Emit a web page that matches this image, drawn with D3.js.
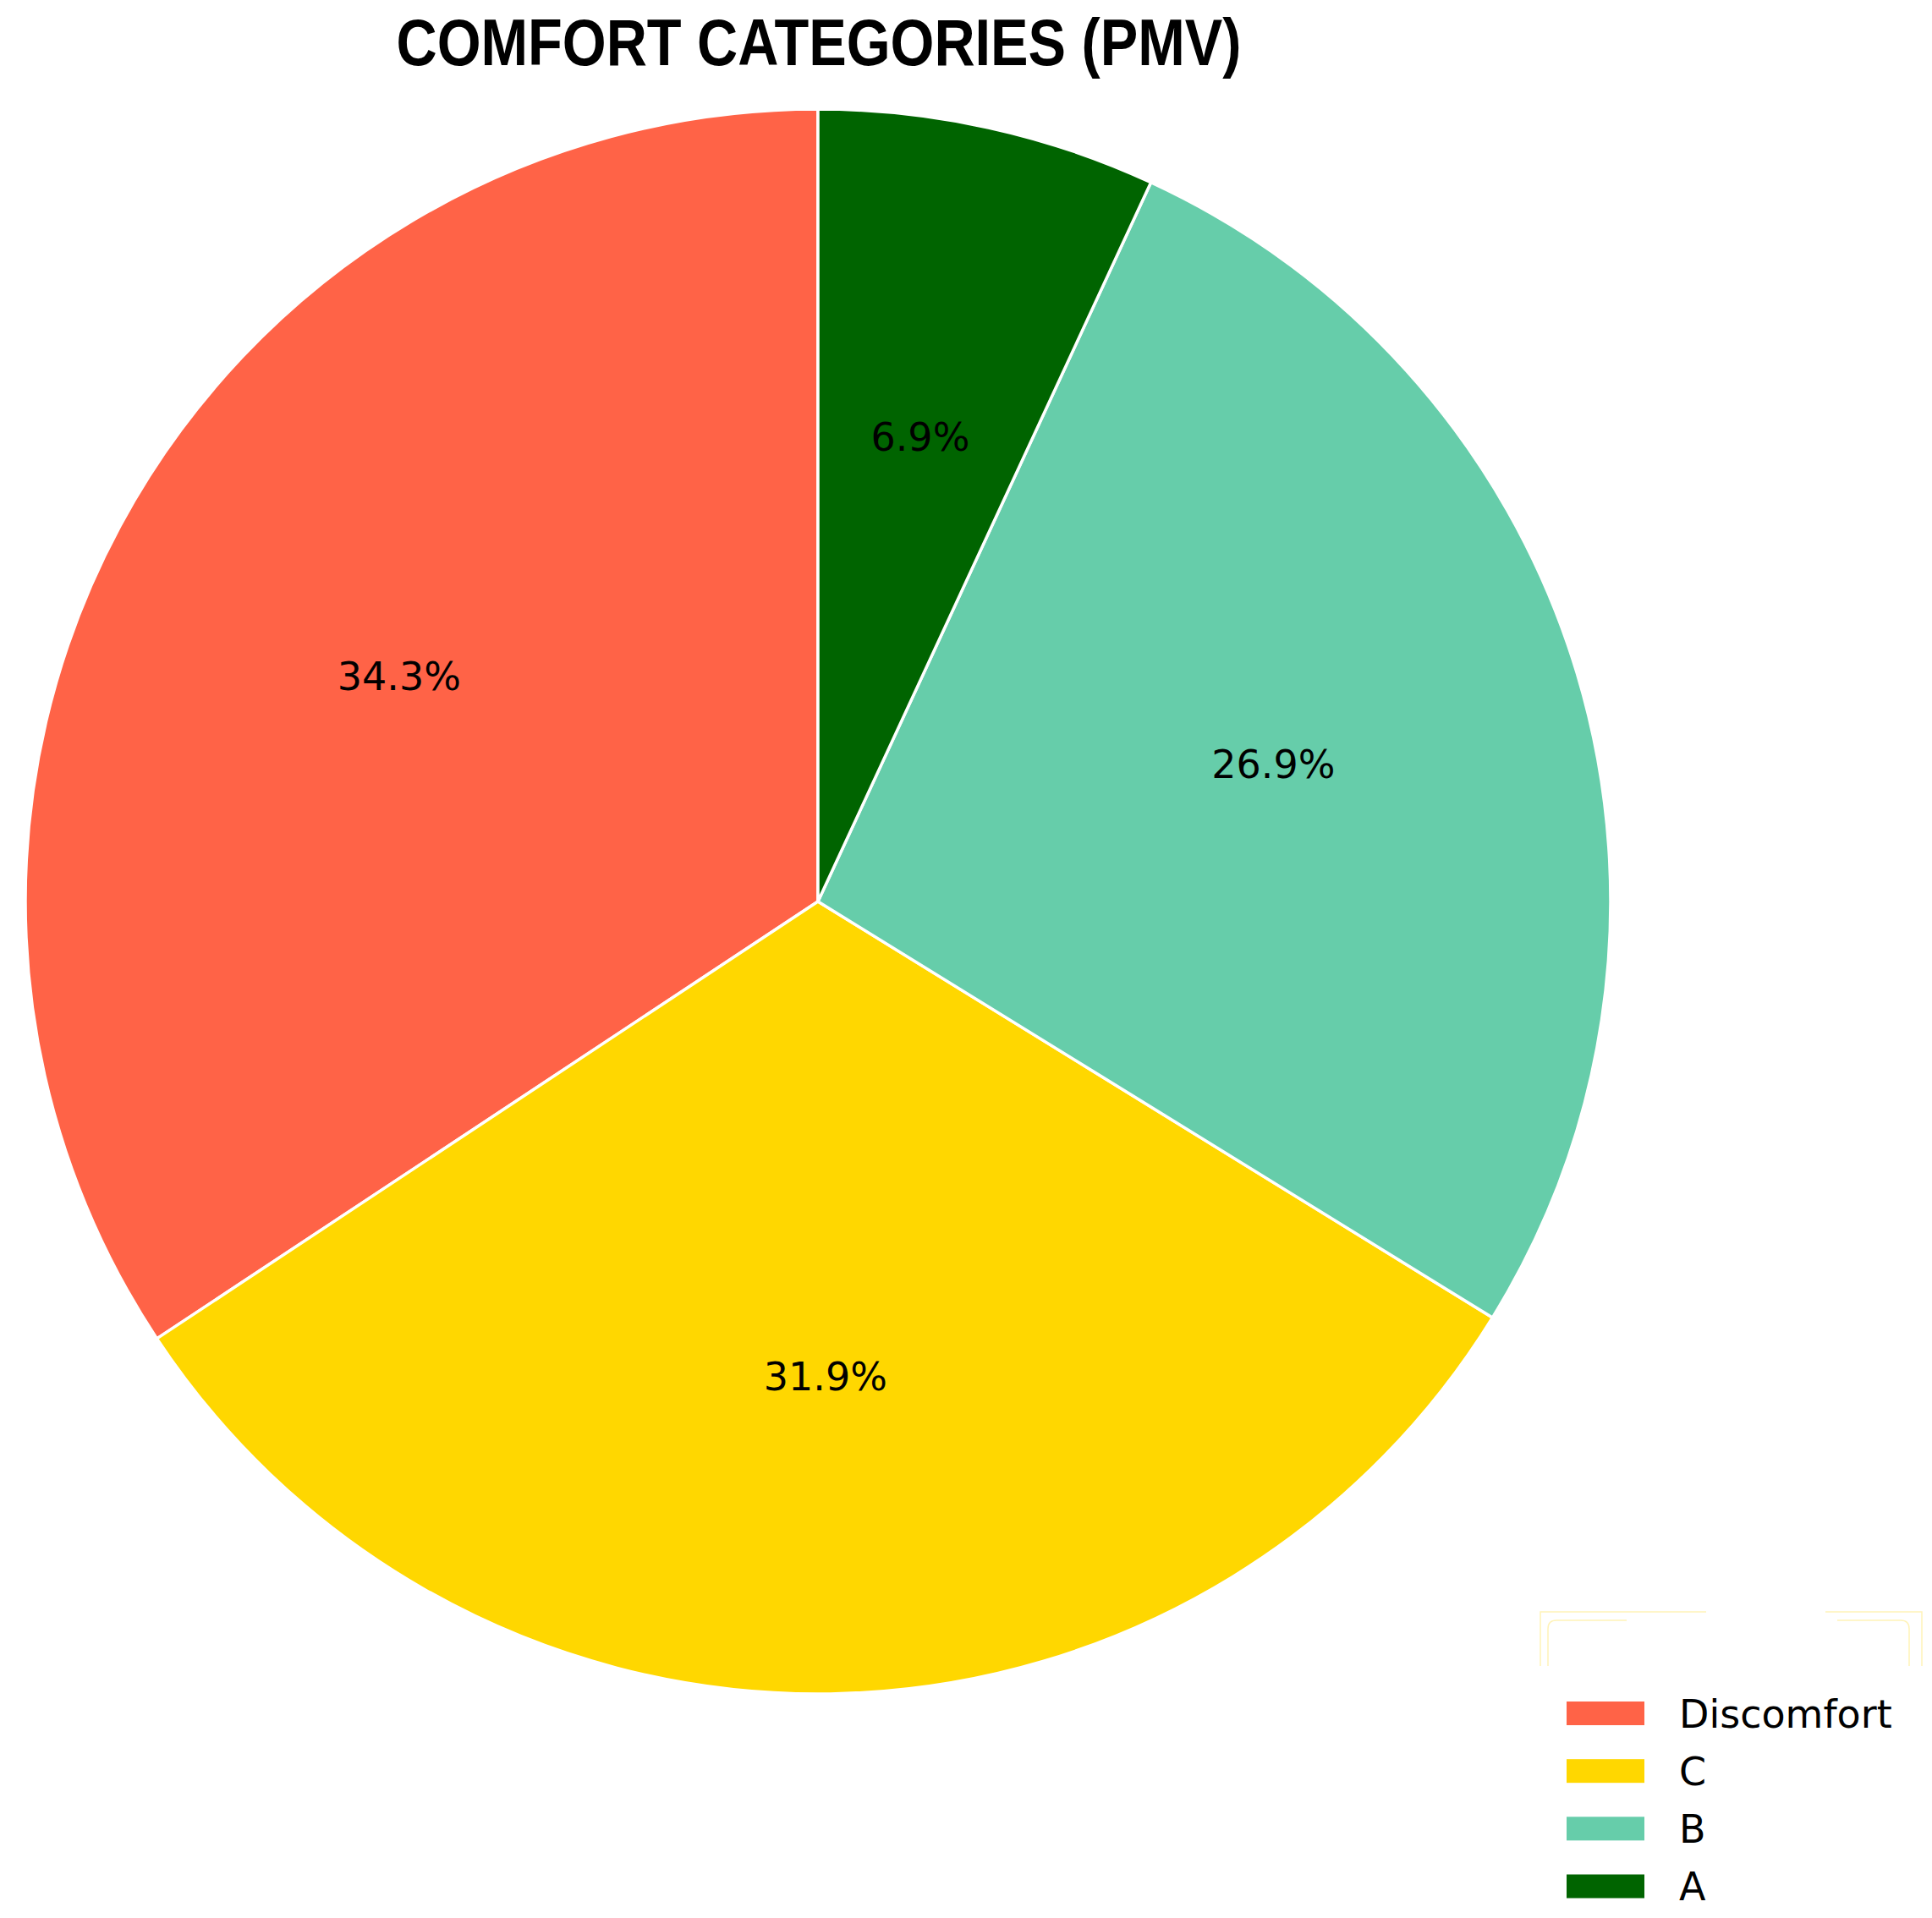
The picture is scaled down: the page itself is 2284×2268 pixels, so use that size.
<!DOCTYPE html>
<html>
<head>
<meta charset="utf-8">
<script src="https://cdn.jsdelivr.net/npm/d3@7"></script>
<style>
  body { margin: 0; background: #fff; }
</style>
</head>
<body>
<div id="wrapper"></div>
<script>
// data
const categories = ["Discomfort", "C", "B", "A"];
const shares = [34.3, 31.9, 26.9, 6.9];
const sliceColors = ["#FF6347", "#FFD700", "#66CDAA", "#006400"];
const chartTitle = "COMFORT CATEGORIES (PMV)";

function buildPlot() {
    const dimension = {
        width: 2284,
        height: 2268,
        cx: 967,
        cy: 1066,
        radius: 937
    };

    const svg = d3.select("#wrapper").append("svg")
        .attr("width", dimension.width)
        .attr("height", dimension.height);

    svg.append("rect")
        .attr("width", dimension.width)
        .attr("height", dimension.height)
        .attr("fill", "#fff");

    const data = categories.map((c, i) => ({ name: c, value: shares[i] }));
    const color = d3.scaleOrdinal().domain(categories).range(sliceColors);

    // counter clockwise from 12 o'clock, like matplotlib startangle=90
    const pie = d3.pie()
        .sort(null)
        .value(d => d.value)
        .startAngle(0)
        .endAngle(-2 * Math.PI);

    const arcs = pie(data);

    const arc = d3.arc()
        .innerRadius(0)
        .outerRadius(dimension.radius);

    const labelArc = d3.arc()
        .innerRadius(dimension.radius * 0.6)
        .outerRadius(dimension.radius * 0.6);

    const bounded = svg.append("g")
        .attr("transform", `translate(${dimension.cx},${dimension.cy})`);

    bounded.selectAll("path.slice")
        .data(arcs)
        .join("path")
        .attr("class", "slice")
        .attr("d", arc)
        .attr("fill", d => color(d.data.name))
        .attr("stroke", "#fff")
        .attr("stroke-width", 3.5)
        .attr("stroke-linejoin", "round");

    bounded.selectAll("text.pct")
        .data(arcs)
        .join("text")
        .attr("class", "pct")
        .attr("transform", d => `translate(${labelArc.centroid(d)})`)
        .attr("text-anchor", "middle")
        .attr("dy", "0.35em")
        .attr("font-family", "DejaVu Sans")
        .attr("font-size", 46)
        .attr("fill", "#000")
        .text(d => d.data.value.toFixed(1) + "%");

    // title
    svg.append("text")
        .attr("x", 968)
        .attr("y", 77)
        .attr("text-anchor", "middle")
        .attr("font-family", "'Liberation Sans Narrow', 'Arial Narrow', 'Liberation Sans', sans-serif")
        .attr("font-weight", "bold")
        .attr("font-size", 77)
        .attr("textLength", 999)
        .attr("lengthAdjust", "spacingAndGlyphs")
        .attr("fill", "#000")
        .text(chartTitle);

    // legend
    const legend = svg.append("g");

    // faint leftover frame pieces above the legend
    const frame = legend.append("g")
        .attr("fill", "none")
        .attr("stroke", "#fff3b8")
        .attr("stroke-width", 1.5);
    frame.append("path").attr("d", "M1821,1970 V1906 H2017");
    frame.append("path").attr("d", "M2158,1906 H2272 V1970");
    frame.append("path").attr("d", "M1830,1970 V1926 Q1830,1916 1840,1916 H1923");
    frame.append("path").attr("d", "M2172,1916 H2247 Q2257,1916 2257,1926 V1970");

    const legendY = d3.scalePoint()
        .domain(categories)
        .range([2026, 2230.5]);

    const item = legend.selectAll("g.item")
        .data(categories)
        .join("g")
        .attr("class", "item")
        .attr("transform", d => `translate(0,${legendY(d)})`);

    item.append("rect")
        .attr("x", 1852)
        .attr("y", -14)
        .attr("width", 92)
        .attr("height", 28)
        .attr("fill", d => color(d));

    item.append("text")
        .attr("x", 1985)
        .attr("dy", "0.365em")
        .attr("font-family", "DejaVu Sans")
        .attr("font-size", 46)
        .attr("fill", "#000")
        .text(d => d);
}

buildPlot();
</script>
</body>
</html>
